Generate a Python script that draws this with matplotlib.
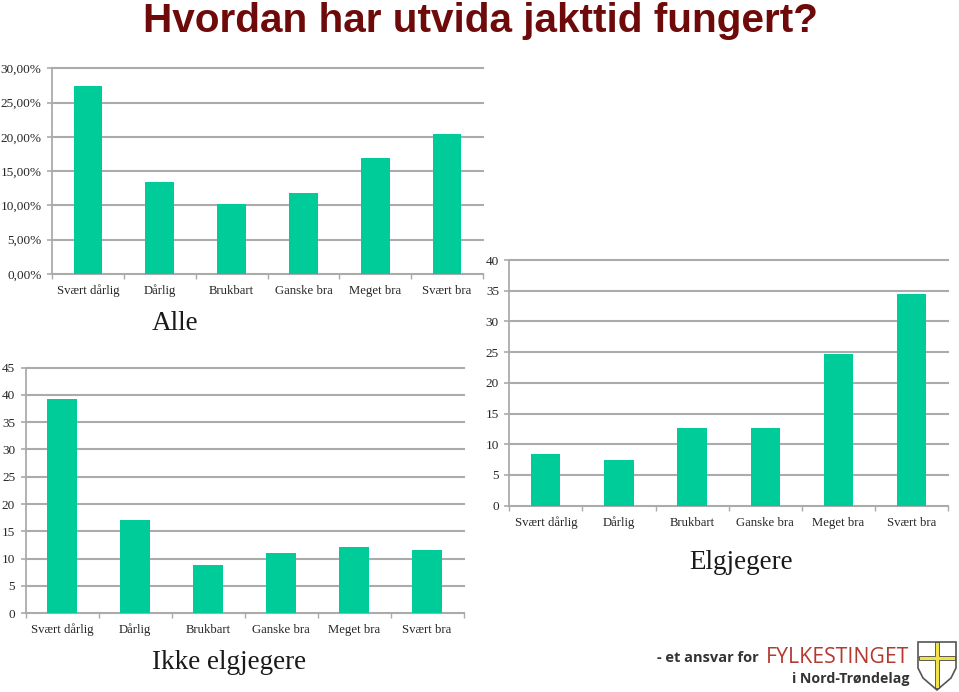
import matplotlib
matplotlib.use('Agg')
import matplotlib.pyplot as plt
from matplotlib.patches import Polygon

plt.rcParams['font.family'] = 'Liberation Serif'

# Data
categories = ['Svært dårlig', 'Dårlig', 'Brukbart', 'Ganske bra', 'Meget bra', 'Svært bra']
alle = [27.4, 13.4, 10.2, 11.8, 16.9, 20.4]
ikke_elgjegere = [39.2, 17.0, 8.8, 11.0, 12.2, 11.6]
elgjegere = [8.4, 7.4, 12.6, 12.6, 24.7, 34.4]

alle_ticks = [0, 5, 10, 15, 20, 25, 30]
alle_ticklabels = ['0,00%', '5,00%', '10,00%', '15,00%', '20,00%', '25,00%', '30,00%']
ikke_ticks = [0, 5, 10, 15, 20, 25, 30, 35, 40, 45]
elg_ticks = [0, 5, 10, 15, 20, 25, 30, 35, 40]

W, H = 959, 692
BAR = '#00CC99'
GRID = '#ABABAB'
TEXT = '#262626'

fig = plt.figure(figsize=(W / 100, H / 100), dpi=100)


def px_axes(left, right, top, bottom):
    return fig.add_axes([left / W, 1 - bottom / H, (right - left) / W, (bottom - top) / H])


def px_text(x, y, s, **kw):
    kw.setdefault('ha', 'center')
    kw.setdefault('va', 'baseline')
    return fig.text(x / W, 1 - y / H, s, **kw)


def bar_panel(box, values, ticks, ticklabels=None):
    ax = px_axes(*box)
    ax.bar(range(len(values)), values, width=0.4, color=BAR, zorder=3)
    ax.set_xlim(-0.5, len(values) - 0.5)
    ax.set_ylim(ticks[0], ticks[-1])
    ax.set_yticks(ticks)
    ax.set_yticklabels(ticklabels if ticklabels else [str(t) for t in ticks])
    ax.set_xticks([i - 0.5 for i in range(len(values) + 1)], minor=True)
    ax.set_xticks(range(len(values)))
    ax.set_xticklabels(categories, va='baseline')
    ax.tick_params(axis='x', which='major', length=0, pad=14.5, labelsize=9.2, labelcolor=TEXT)
    ax.tick_params(axis='x', which='minor', length=3.5, width=1, color=GRID, direction='out')
    ax.tick_params(axis='y', length=3.5, width=1.2, color=GRID, pad=4, labelsize=9.5, labelcolor=TEXT)
    ax.yaxis.grid(True, color=GRID, lw=1.5, zorder=1)
    for line in ax.get_ygridlines():
        line.set_clip_on(False)
    ax.set_axisbelow(True)
    for side in ['top', 'right']:
        ax.spines[side].set_visible(False)
    for side in ['left', 'bottom']:
        ax.spines[side].set_color(GRID)
        ax.spines[side].set_linewidth(1.3)
    return ax


bar_panel((52, 483, 68.3, 274), alle, alle_ticks, alle_ticklabels)
bar_panel((25.5, 463.5, 367.5, 613.3), ikke_elgjegere, ikke_ticks)
bar_panel((509.3, 948, 260, 505.7), elgjegere, elg_ticks)

px_text(480, 32, 'Hvordan har utvida jakttid fungert?', family='Liberation Sans',
        weight='bold', fontsize=29.2, color='#6E0A0A')
px_text(175, 330, 'Alle', fontsize=19.5, color='#1a1a1a')
px_text(229, 669, 'Ikke elgjegere', fontsize=19.5, color='#1a1a1a')
px_text(741, 569, 'Elgjegere', fontsize=19.5, color='#1a1a1a')

# Logo at the lower right
px_text(759, 662, '- et ansvar for', ha='right', family='Open Sans', weight='bold',
        fontsize=10.5, color='#333333')
px_text(909, 663, 'FYLKESTINGET', ha='right', family='Open Sans', fontsize=15.3, color='#B23A30')
px_text(909, 683, 'i Nord-Trøndelag', ha='right', family='Open Sans', weight='bold',
        fontsize=10.2, color='#333333')


def px_poly(points, **kw):
    fig.add_artist(Polygon([(x / W, 1 - y / H) for x, y in points],
                           transform=fig.transFigure, **kw))


shield = [(918, 642), (956, 642), (956, 668), (951, 678), (937, 690), (923, 678), (918, 668)]
px_poly(shield, facecolor='white', edgecolor='#555555', lw=1.2)
px_poly([(935, 642), (939, 642), (939, 656), (955, 656), (955, 660), (939, 660), (939, 688),
         (935, 688), (935, 660), (919, 660), (919, 656), (935, 656)],
        facecolor='#F2E24A', edgecolor='#444444', lw=0.6)

fig.savefig('out.png', dpi=100)
